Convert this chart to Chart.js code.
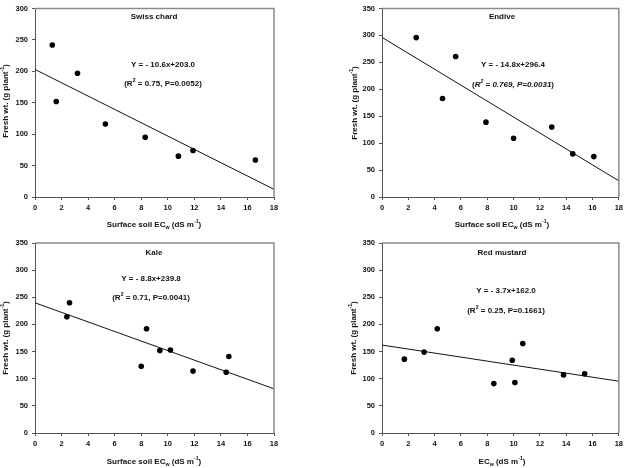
<!DOCTYPE html>
<html><head><meta charset="utf-8">
<script src="https://cdn.jsdelivr.net/npm/chart.js@4"></script>
<style>
body{margin:0;background:#fff;width:626px;height:468px;position:relative;overflow:hidden}
canvas{position:absolute}
</style></head><body>
<canvas id="c1" width="313" height="234" style="left:0;top:0"></canvas>
<canvas id="c2" width="313" height="234" style="left:313px;top:0"></canvas>
<canvas id="c3" width="313" height="234" style="left:0;top:234px"></canvas>
<canvas id="c4" width="313" height="234" style="left:313px;top:234px"></canvas>
<script>
// ---- data ----
const swissX = [1.3, 1.6, 3.2, 5.3, 8.3, 10.8, 11.9, 16.6];
const swissY = [242, 152, 197, 116, 95, 65, 74, 59];
const swissLine = [203.0, 12.2];

const endiveX = [2.6, 4.6, 5.6, 7.9, 10.0, 12.9, 14.5, 16.1];
const endiveY = [296, 183, 261, 139, 109, 130, 80, 75];
const endiveLine = [296.4, 30.0];

const kaleX = [2.4, 2.6, 8.0, 8.4, 9.4, 10.2, 11.9, 14.4, 14.6];
const kaleY = [214, 240, 123, 192, 152, 153, 114, 112, 141];
const kaleLine = [239.8, 81.4];

const mustardX = [1.7, 3.2, 4.2, 8.5, 9.9, 10.1, 10.7, 13.8, 15.4];
const mustardY = [136, 149, 192, 91, 134, 93, 165, 107, 109];
const mustardLine = [162.0, 95.4];

const lineX = [0, 18];
const yMaxes = [300, 350, 350, 350];
const cropNames = ['Swiss chard', 'Endive', 'Kale', 'Red mustard'];
const equations = ['Y = - 10.6x+203.0', 'Y = - 14.8x+296.4', 'Y = - 8.8x+239.8', 'Y = - 3.7x+162.0'];
const statsR2 = ['0.75', '0.769', '0.71', '0.25'];
const statsP = ['0.0052', '0.0031', '0.0041', '0.1661'];
const statsItalic = [false, true, false, false];
const xTitleMain = ['Surface soil EC', 'Surface soil EC', 'Surface soil EC', 'EC'];
const yTitle = 'Fresh wt. (g plant';

// ---- layout (styles) ----
const panels = [
  {id:'c1', xs:swissX, ys:swissY, line:swissLine, area:{l:35,r:274,t:8,b:197},
   title:[154,17], eq:[163,65], st:[163,84], xt:[154,225], yt:[6,101]},
  {id:'c2', xs:endiveX, ys:endiveY, line:endiveLine, area:{l:69,r:308,t:7,b:197},
   title:[189,17], eq:[200,65], st:[200,85], xt:[189,225], yt:[42,103]},
  {id:'c3', xs:kaleX, ys:kaleY, line:kaleLine, area:{l:35,r:274,t:9,b:199},
   title:[154,19], eq:[151,45], st:[151,64], xt:[154,228], yt:[6,104]},
  {id:'c4', xs:mustardX, ys:mustardY, line:mustardLine, area:{l:69,r:308,t:9,b:199},
   title:[189,19], eq:[193,57], st:[193,77], xt:[189,228], yt:[41,104]}
];

const FONT = '"Liberation Sans", Arial, sans-serif';
const TXT = '#111';

function fontStr(size, italic){ return (italic?'italic ':'') + 'bold ' + size + 'px ' + FONT; }

// draw rich text centered at (cx,cy); segs: {t, sup, sub, it}
function drawRich(ctx, segs, cx, cy, size, rot){
  ctx.save();
  ctx.translate(cx, cy);
  if (rot) ctx.rotate(rot);
  ctx.fillStyle = TXT;
  ctx.textBaseline = 'middle';
  ctx.textAlign = 'left';
  let total = 0;
  const widths = segs.map(s => {
    const sz = (s.sup||s.sub) ? size*0.65 : size;
    ctx.font = fontStr(sz, s.it);
    const w = ctx.measureText(s.t).width;
    total += w; return w;
  });
  let x = -total/2;
  segs.forEach((s,i) => {
    const sz = (s.sup||s.sub) ? size*0.65 : size;
    ctx.font = fontStr(sz, s.it);
    let dy = 0;
    if (s.sup) dy = -size*0.38;
    if (s.sub) dy = size*0.3;
    ctx.fillText(s.t, x, dy);
    x += widths[i];
  });
  ctx.restore();
}

panels.forEach((p, i) => {
  const ctx = document.getElementById(p.id).getContext('2d');
  const W = 313, H = 234;
  const pts = p.xs.map((x, k) => ({x, y: p.ys[k]}));
  const linePts = lineX.map((x, k) => ({x, y: p.line[k]}));
  const deco = {
    id: 'deco' + i,
    afterDraw(chart){
      const c = chart.ctx, a = chart.chartArea;
      c.save();
      c.strokeStyle = '#8a8a8a';
      c.lineWidth = 1.5;
      c.beginPath();
      c.moveTo(a.left, a.top); c.lineTo(a.right, a.top); c.lineTo(a.right, a.bottom);
      c.stroke();
      c.restore();
      drawRich(c, [{t: cropNames[i]}], p.title[0], p.title[1], 8);
      drawRich(c, [{t: equations[i]}], p.eq[0], p.eq[1], 8);
      const it = statsItalic[i];
      drawRich(c, [{t:'('}, {t:'R', it}, {t:'2', sup:true, it}, {t:' = ' + statsR2[i] + ', P=' + statsP[i], it}, {t:')'}],
        p.st[0], p.st[1], 8);
      drawRich(c, [{t: xTitleMain[i]}, {t:'w', sub:true}, {t:' (dS m'}, {t:'-1', sup:true}, {t:')'}],
        p.xt[0], p.xt[1], 8);
      drawRich(c, [{t: yTitle}, {t:'-1', sup:true}, {t:')'}], p.yt[0], p.yt[1], 8, -Math.PI/2);
    }
  };
  new Chart(ctx, {
    type: 'scatter',
    data: {
      datasets: [
        {data: pts, pointRadius: 2.8, pointHoverRadius: 2.8, backgroundColor: '#000', borderColor: '#000', borderWidth: 0},
        {data: linePts, showLine: true, pointRadius: 0, borderColor: '#111', borderWidth: 1, fill: false}
      ]
    },
    options: {
      responsive: false,
      animation: false,
      events: [],
      layout: {padding: {left: 0, top: p.area.t, right: W - p.area.r, bottom: 0}},
      plugins: {legend: {display: false}, tooltip: {enabled: false}},
      scales: {
        x: {
          type: 'linear', min: 0, max: 18,
          afterFit(s){ s.height = H - p.area.b; },
          ticks: {stepSize: 2, padding: 3, color: TXT, font: {family: FONT, size: 7.5, weight: 'bold'}},
          grid: {drawOnChartArea: false, drawTicks: true, tickLength: 3, color: '#555'},
          border: {display: true, color: '#555', width: 1}
        },
        y: {
          type: 'linear', min: 0, max: yMaxes[i],
          afterFit(s){ s.width = p.area.l; },
          ticks: {stepSize: 50, padding: 4, color: TXT, font: {family: FONT, size: 7.5, weight: 'bold'}},
          grid: {drawOnChartArea: false, drawTicks: true, tickLength: 3, color: '#555'},
          border: {display: true, color: '#555', width: 1}
        }
      }
    },
    plugins: [deco]
  });
});
</script>
</body></html>
